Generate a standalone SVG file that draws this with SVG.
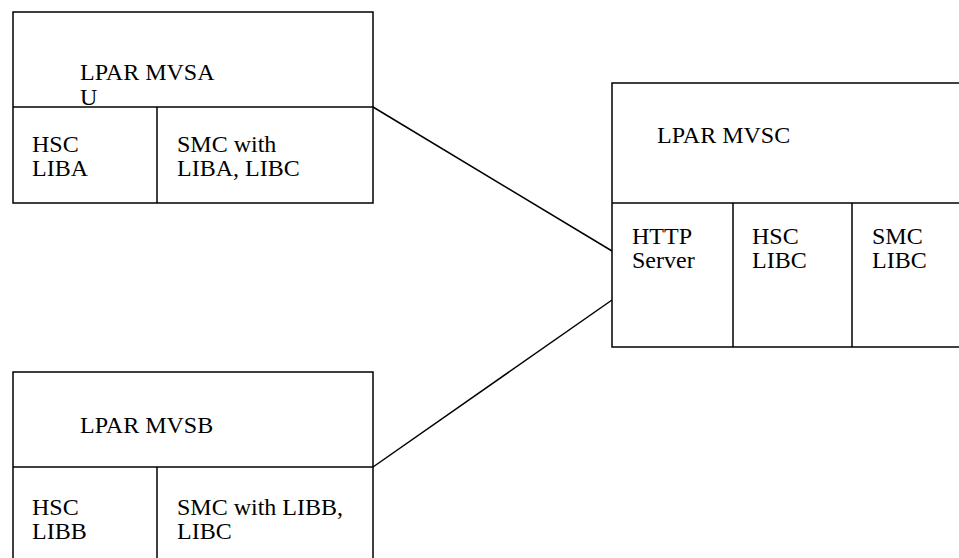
<svg xmlns="http://www.w3.org/2000/svg" width="959" height="558" viewBox="0 0 959 558">
<style>
.box{fill:#fff;stroke:#000;stroke-width:1.5}
.ln{stroke:#000;stroke-width:1.5;fill:none}
.t{font-family:'Liberation Serif','Times New Roman',serif;font-size:24px;fill:#000}
</style>
<rect width="959" height="558" fill="#fff"/>
<g id="connectors">
<line class="ln" x1="373" y1="107" x2="612" y2="251"/>
<line class="ln" x1="373" y1="467" x2="612" y2="300"/>
</g>
<g id="mvsa" class="t">
<rect class="box" x="13" y="12" width="360" height="191"/>
<line class="ln" x1="13" y1="107" x2="373" y2="107"/>
<line class="ln" x1="157" y1="107" x2="157" y2="203"/>
<text x="80" y="80">LPAR MVSA</text>
<text x="80" y="105">U</text>
<text x="32" y="152">HSC</text>
<text x="32" y="176">LIBA</text>
<text x="177" y="152">SMC with</text>
<text x="177" y="176">LIBA, LIBC</text>
</g>
<g id="mvsb" class="t">
<rect class="box" x="13" y="372" width="360" height="200"/>
<line class="ln" x1="13" y1="467" x2="373" y2="467"/>
<line class="ln" x1="157" y1="467" x2="157" y2="572"/>
<text x="80" y="433">LPAR MVSB</text>
<text x="32" y="515">HSC</text>
<text x="32" y="539">LIBB</text>
<text x="177" y="515">SMC with LIBB,</text>
<text x="177" y="539">LIBC</text>
</g>
<g id="mvsc" class="t">
<rect class="box" x="612" y="83" width="360" height="264"/>
<line class="ln" x1="612" y1="203" x2="972" y2="203"/>
<line class="ln" x1="733" y1="203" x2="733" y2="347"/>
<line class="ln" x1="852" y1="203" x2="852" y2="347"/>
<text x="657" y="143">LPAR MVSC</text>
<text x="632" y="244">HTTP</text>
<text x="632" y="268">Server</text>
<text x="752" y="244">HSC</text>
<text x="752" y="268">LIBC</text>
<text x="872" y="244">SMC</text>
<text x="872" y="268">LIBC</text>
</g>
</svg>
